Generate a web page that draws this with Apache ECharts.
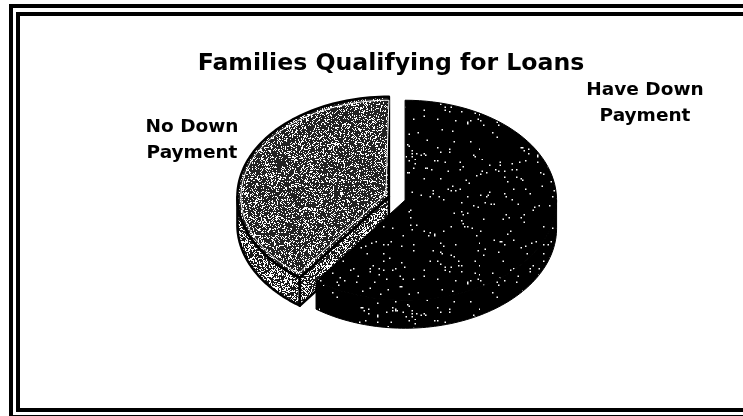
<!DOCTYPE html>
<html>
<head>
<meta charset="utf-8">
<style>html,body{margin:0;padding:0;background:#fff}#chart{width:743px;height:416px}</style>
<script src="https://cdn.jsdelivr.net/npm/echarts@6/dist/echarts.min.js"></script>
</head>
<body>
<div id="chart"></div>
<script>
// Loan qualification shares, in percent
const categories = ['No Down Payment', 'Have Down Payment'];
const shareValues = [40, 60];
const labelLines = [['No Down', 'Payment'], ['Have Down', 'Payment']];
const chartTitle = 'Families Qualifying for Loans';

// Pie geometry
const pie = { cx: 397, cy: 198.5, rx: 151.5, ry: 100, depth: 28, explode: 8.5, tilt: 0.66, start: 216 };
const labelAnchors = [[192, 127, 153], [645, 90, 116]];

// Small seeded generator: gives the print-like stipple a stable look
function stipple(density, darkTone, blockSize) {
  const size = 160, c = document.createElement('canvas');
  c.width = c.height = size;
  const ctx = c.getContext('2d');
  ctx.fillStyle = darkTone;
  ctx.fillRect(0, 0, size, size);
  let seed = 12345 + Math.round(density * 1000);
  const next = () => (seed = (seed * 1664525 + 1013904223) >>> 0) / 4294967296;
  ctx.fillStyle = '#fff';
  for (let y = 0; y < size; y += blockSize) {
    for (let x = 0; x < size; x += blockSize) {
      if (next() < density) ctx.fillRect(x, y, blockSize, blockSize);
    }
  }
  return { image: c, repeat: 'repeat' };
}
const topFills = [stipple(0.26, '#222', 1), stipple(0.025, '#000', 1.5)];
const sideFills = [stipple(0.4, '#1a1a1a', 1), stipple(0.025, '#000', 1.5)];

const rad = d => d * Math.PI / 180;
function onRim(c, t, rx, ry, dy) {
  return [c[0] + rx * Math.sin(rad(t)), c[1] - ry * Math.cos(rad(t)) + (dy || 0)];
}
function arc(c, from, to, rx, ry, dy) {
  const pts = [], n = 80;
  for (let i = 0; i <= n; i++) pts.push(onRim(c, from + (to - from) * i / n, rx, ry, dy));
  return pts;
}

const total = shareValues.reduce((a, b) => a + b, 0);

function renderSlice(params, api) {
  const i = params.dataIndex;
  let before = 0;
  for (let k = 0; k < i; k++) before += shareValues[k];
  const from = (pie.start + before / total * 360) % 360;
  const to = from + api.value(0) / total * 360;
  const mid = rad((from + to) / 2);
  const c = [pie.cx + pie.explode * Math.sin(mid), pie.cy - pie.explode * pie.tilt * Math.cos(mid)];
  const children = [];
  const line = { stroke: '#000', lineWidth: 2.5, lineJoin: 'round' };
  const poly = (points, style) => ({ type: 'polygon', shape: { points }, style });

  // Outer wall: the part of the rim facing the viewer (90deg..270deg)
  const wallFrom = Math.max(from, 90), wallTo = Math.min(to, 270);
  if (wallFrom < wallTo) {
    const upper = arc(c, wallFrom, wallTo, pie.rx, pie.ry, 0);
    const lower = arc(c, wallFrom, wallTo, pie.rx, pie.ry, pie.depth).reverse();
    const edge = i === 1 ? { stroke: '#000', lineWidth: 1 } : line;
    children.push(poly(upper.concat(lower), Object.assign({ fill: sideFills[i] }, edge)));
  }
  // Cut wall on the first radial edge of the left slice
  if (from > 90 && from < 270) {
    const e = onRim(c, from, pie.rx, pie.ry);
    children.push(poly([c, e, [e[0], e[1] + pie.depth], [c[0], c[1] + pie.depth]],
      Object.assign({ fill: sideFills[i] }, line)));
  }
  // Top face
  children.push(poly([c].concat(arc(c, from, to, pie.rx, pie.ry)),
    Object.assign({ fill: topFills[i] }, i === 1 ? { stroke: '#000', lineWidth: 1 } : line)));
  // Pale inner rim on the lighter face
  if (i === 0) {
    const inner = [c[0] - 3, c[1] - 3];
    children.push({ type: 'polygon', shape: { points: [inner].concat(arc(c, from + 1.5, to, pie.rx - 3.5, pie.ry - 3.5)) },
      style: { fill: 'none', stroke: '#fff', lineWidth: 1 } });
  }
  // Slice name
  labelLines[i].forEach((txt, k) => {
    children.push({ type: 'text', style: {
      text: txt, x: labelAnchors[i][0], y: labelAnchors[i][k + 1],
      align: 'center', verticalAlign: 'middle', fill: '#000',
      font: 'bold 18.5px "DejaVu Sans"' } });
  });
  return { type: 'group', children };
}

const frame = [
  { x: 9, y: 4, w: 734, h: 4 }, { x: 16, y: 12, w: 727, h: 4 },
  { x: 9, y: 4, w: 4, h: 412 }, { x: 16, y: 12, w: 4, h: 400 },
  { x: 16, y: 408, w: 727, h: 4 }, { x: 9, y: 415, w: 734, h: 1 }
];

const chart = echarts.init(document.getElementById('chart'), null, { renderer: 'canvas' });
chart.setOption({
  animation: false,
  backgroundColor: '#fff',
  title: {
    text: chartTitle, left: 386, top: 47, textAlign: 'center',
    textStyle: { fontFamily: 'DejaVu Sans', fontWeight: 'bold', fontSize: 23.6, color: '#000' }
  },
  graphic: frame.map(r => ({
    type: 'rect', shape: { x: r.x, y: r.y, width: r.w, height: r.h }, style: { fill: '#000' }, silent: true
  })),
  xAxis: { show: false }, yAxis: { show: false },
  series: [{
    type: 'custom',
    coordinateSystem: 'none',
    renderItem: renderSlice,
    data: categories.map((name, i) => ({ name, value: [shareValues[i]] }))
  }]
});
</script>
</body>
</html>
